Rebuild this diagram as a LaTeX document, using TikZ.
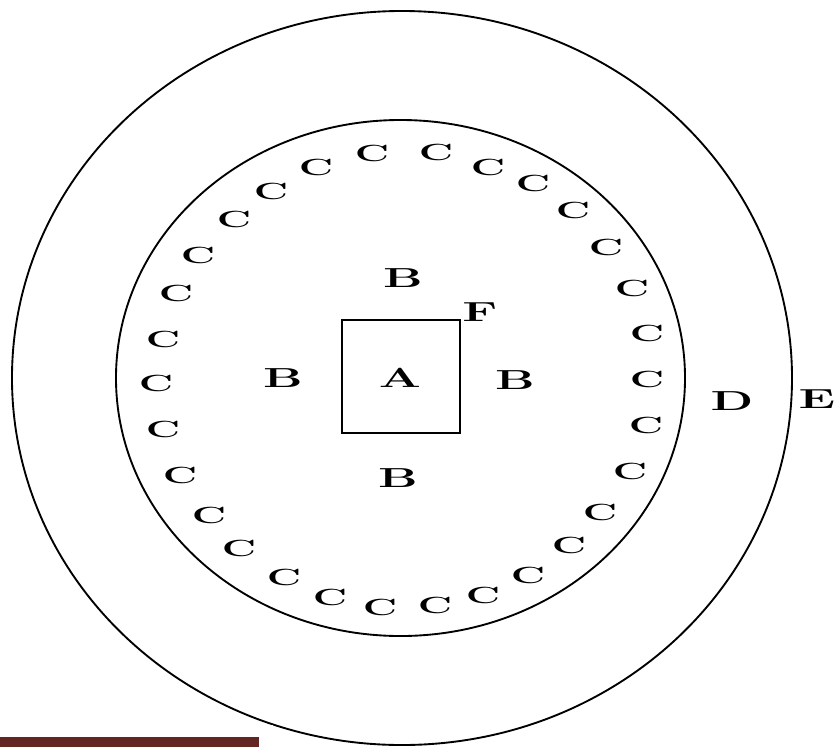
\documentclass[tikz,border=0pt]{standalone}
\usepackage{graphicx}
\definecolor{barred}{RGB}{99,36,35}
\newcommand{\wideletter}[1]{\scalebox{1.8}[1]{#1}}
\tikzset{
  lab/.style={inner sep=0pt, font=\fontsize{23.5}{23.5}\selectfont\bfseries},
  clab/.style={inner sep=0pt, font=\fontsize{20}{20}\selectfont\bfseries},
  ring/.style={line width=1.6pt},
}
\begin{document}
\begin{tikzpicture}[x=0.03cm,y=-0.03cm]
\useasboundingbox (0,0) rectangle (834,747);
% rings and square
\draw[ring] (402,378) ellipse [x radius=11.7cm, y radius=11.01cm];
\draw[ring] (400.5,378) ellipse [x radius=8.535cm, y radius=7.74cm];
\draw[ring] (342,320) rectangle (460,433);
% labels
\node[lab] (A) at (400,378) {\wideletter{A}};
\node[lab] (Btop) at (403,278) {\wideletter{B}};
\node[lab] (Bleft) at (283,378) {\wideletter{B}};
\node[lab] (Bright) at (515,380) {\wideletter{B}};
\node[lab] (Bbottom) at (398,478) {\wideletter{B}};
\node[lab] (F) at (480,312) {\wideletter{F}};
\node[lab] (D) at (732,401) {\wideletter{D}};
\node[lab] (E) at (817,399) {\wideletter{E}};
% ring of C
\foreach \px/\py [count=\i] in {156/383,163/339,176/293,198/255,234/219,271/191,316/167,372/153,436/152,488/167,533/183,573/210,606/247,632/288,647/333,647/379,646/425,630/471,600/512,569/545,528/575,483/595,435/605,380/607,330/597,284/577,239/548,209/515,180/475,163/429}
  \node[clab] (c\i) at (\px,\py) {\wideletter{C}};
% bottom bar
\fill[white] (0,725) rectangle (273,737);
\fill[barred] (0,737) rectangle (259,747);
\end{tikzpicture}
\end{document}
